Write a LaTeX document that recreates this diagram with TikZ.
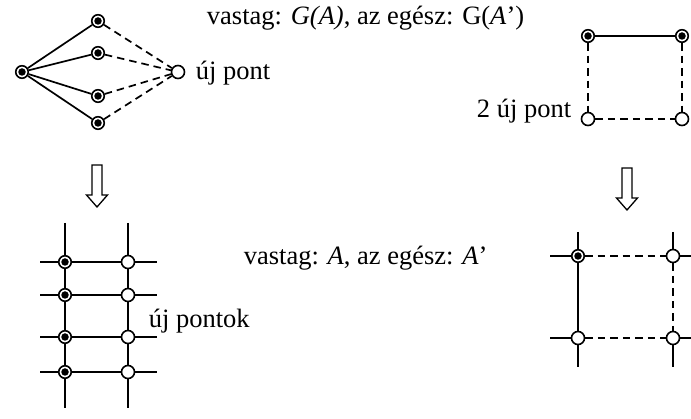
\documentclass[tikz,border=0pt]{standalone}
\usepackage{fontspec}
\setmainfont{Liberation Serif}
\begin{document}
\begin{tikzpicture}[x=1pt,y=-1pt,
  every path/.style={line width=1.7pt},
  fnode/.style={circle,draw,line width=1.6pt,fill=white,minimum size=12.5pt,inner sep=0pt,
    label={[circle,fill=black,draw=none,inner sep=0pt,minimum size=7.5pt]center:{}}},
  onode/.style={circle,draw,line width=1.6pt,fill=white,minimum size=13pt,inner sep=0pt},
  dashedge/.style={dash pattern=on 7.5pt off 5pt},
  lbl/.style={inner sep=0pt,font=\fontsize{26.5}{30}\selectfont},
  hollowarrow/.pic={\draw[line width=1.3pt,line join=miter]
      (-5,0) -- (-5,30) -- (-10.5,30) -- (0,42) -- (10.5,30) -- (5,30) -- (5,0) -- cycle;}
]
\useasboundingbox (0,0) rectangle (691,419);

% ---- upper left: the star G(A) with the new point ----
\node[fnode] (h)  at (22,72) {};
\node[fnode] (r1) at (98,21) {};
\node[fnode] (r2) at (98,53) {};
\node[fnode] (r3) at (98,96) {};
\node[fnode] (r4) at (98,123) {};
\node[onode] (u)  at (178,72) {};
\foreach \i in {1,...,4}{
  \draw (h) -- (r\i);
  \draw[dashedge] (r\i) -- (u);
}
\node[lbl,anchor=base west] (tu) at (195,80) {új pont};

\node[lbl,anchor=base east] (tt) at (525,25) {vastag: \textit{G(A)}, az egész: G(\textit{A}’)};

% ---- upper right: square with two new points ----
\node[fnode] (a1) at (588,36) {};
\node[fnode] (a2) at (682,36) {};
\node[onode] (a3) at (588,119) {};
\node[onode] (a4) at (682,119) {};
\draw (a1) -- (a2);
\draw[dashedge] (a1) -- (a3);
\draw[dashedge] (a2) -- (a4);
\draw[dashedge] (a3) -- (a4);
\node[lbl,anchor=base east] (t2) at (572,118) {2 új pont};

% ---- arrows ----
\pic at (97,165) {hollowarrow};
\pic at (627,168) {hollowarrow};

% ---- lower left: the grid A ----
\coordinate (v1t) at (65,223);  \coordinate (v1b) at (65,408);
\coordinate (v2t) at (128,223); \coordinate (v2b) at (128,408);
\draw (v1t) -- (v1b);
\draw (v2t) -- (v2b);
\foreach \y [count=\k] in {262,295,337,372}{
  \coordinate (hl\k) at (40,\y);
  \coordinate (hr\k) at (157,\y);
  \draw (hl\k) -- (hr\k);
  \node[fnode] (g\k) at (65,\y) {};
  \node[onode] (n\k) at (128,\y) {};
}
\node[lbl,anchor=base west] (tp) at (148,328) {új pontok};

\node[lbl,anchor=base west] (tv) at (243,265) {vastag: \textit{A}, az egész: \textit{A}’};

% ---- lower right: square in the grid ----
\coordinate (s1) at (550,256); \coordinate (s2) at (691,256);
\coordinate (s3) at (550,338); \coordinate (s4) at (691,338);
\coordinate (s5) at (578,232); \coordinate (s6) at (578,367);
\coordinate (s7) at (673,232); \coordinate (s8) at (673,367);
\draw (s1) -- (578,256);
\draw (s3) -- (578,338);
\draw (673,256) -- (s2);
\draw (673,338) -- (s4);
\draw (s5) -- (578,256);
\draw (578,338) -- (s6);
\draw (s7) -- (673,256);
\draw (673,338) -- (s8);
\node[fnode] (b1) at (578,256) {};
\node[onode] (b2) at (673,256) {};
\node[onode] (b3) at (578,338) {};
\node[onode] (b4) at (673,338) {};
\draw (b1) -- (b3);
\draw[dashedge] (b1) -- (b2);
\draw[dashedge] (b2) -- (b4);
\draw[dashedge] (b3) -- (b4);
\end{tikzpicture}
\end{document}
